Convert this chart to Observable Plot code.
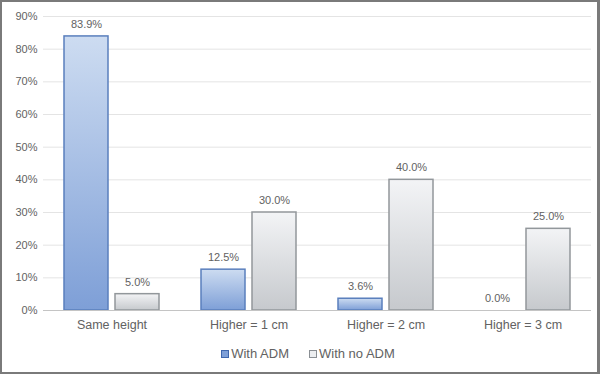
<!DOCTYPE html>
<html>
<head>
<meta charset="utf-8">
<script src="https://cdn.jsdelivr.net/npm/d3@7"></script>
<script src="https://cdn.jsdelivr.net/npm/@observablehq/plot@0.6"></script>
<style>
  html, body { margin: 0; padding: 0; background: #fff; }
  #frame {
    width: 600px; height: 374px; box-sizing: border-box;
    border: 2px solid #7a7a7a; border-right-width: 3px; background: #fff;
    font-family: "Liberation Sans", Arial, sans-serif; position: relative;
  }
  #legend {
    position: absolute; left: 0; right: 0; top: 344px;
    display: flex; justify-content: center; gap: 20px;
    font-size: 13px; color: #626262; padding-left: 17px;
  }
  #legend span { display: inline-flex; align-items: center; }
  #legend i { display: inline-block; width: 6px; height: 6px; margin-right: 2px; }
</style>
</head>
<body>
<div id="frame">
  <div id="chart"></div>
  <div id="legend"></div>
</div>
<script>
const categories = ["Same height", "Higher = 1 cm", "Higher = 2 cm", "Higher = 3 cm"];
const seriesNames = ["With ADM", "With no ADM"];
const withADM = [83.9, 12.5, 3.6, 0.0];
const withNoADM = [5.0, 30.0, 40.0, 25.0];
const yTicks = [0, 10, 20, 30, 40, 50, 60, 70, 80, 90];

const rows = [];
categories.forEach((c, i) => {
  rows.push({cat: c, series: seriesNames[0], value: withADM[i]});
  rows.push({cat: c, series: seriesNames[1], value: withNoADM[i]});
});
const rowsA = rows.filter(d => d.series === seriesNames[0]);
const rowsB = rows.filter(d => d.series === seriesNames[1]);

const chart = Plot.plot({
  width: 595,
  height: 336,
  marginTop: 14,
  marginBottom: 28,
  marginLeft: 40,
  marginRight: 5,
  style: {fontFamily: "Liberation Sans, Arial, sans-serif", fontSize: "11px", color: "#626262", background: "transparent"},
  fx: {domain: categories, padding: 0, label: null},
  x: {domain: seriesNames, paddingInner: 0.135, paddingOuter: 0.39, axis: null},
  y: {domain: [0, 90], ticks: yTicks, label: null},
  marks: [
    Plot.ruleY(yTicks.filter(t => t > 0), {stroke: "#e4e4e4", strokeWidth: 1}),
    Plot.axisY({ticks: yTicks, tickSize: 0, tickPadding: 6, tickFormat: d => d + "%", label: null, color: "#626262", fontSize: 11}),
    Plot.axisFx({anchor: "bottom", tickSize: 0, tickPadding: 10, label: null, color: "#626262", fill: "#626262", fontSize: 12.5}),
    Plot.barY(rowsA, {fx: "cat", x: "series", y: "value", fill: "url(#gradADM)", stroke: "#5a7fbd", strokeWidth: 1.5}),
    Plot.barY(rowsB, {fx: "cat", x: "series", y: "value", fill: "url(#gradNo)", stroke: "#92979b", strokeWidth: 1.5}),
    Plot.ruleY([0], {stroke: "#c4c4c4", strokeWidth: 1}),
    Plot.text(rows, {fx: "cat", x: "series", y: "value", text: d => d.value.toFixed(1) + "%", dy: -12, fill: "#626262", fontSize: 11})
  ]
});

const ns = "http://www.w3.org/2000/svg";
const defs = document.createElementNS(ns, "defs");
function grad(id, top, bottom) {
  const g = document.createElementNS(ns, "linearGradient");
  g.setAttribute("id", id);
  g.setAttribute("x1", "0"); g.setAttribute("y1", "0");
  g.setAttribute("x2", "0"); g.setAttribute("y2", "1");
  [[0, top], [1, bottom]].forEach(([o, c]) => {
    const s = document.createElementNS(ns, "stop");
    s.setAttribute("offset", o);
    s.setAttribute("stop-color", c);
    g.appendChild(s);
  });
  defs.appendChild(g);
}
grad("gradADM", "#cddcf1", "#7e9fd7");
grad("gradNo", "#f3f4f6", "#c6c9cd");
chart.insertBefore(defs, chart.firstChild);
document.getElementById("chart").appendChild(chart);

const legend = document.getElementById("legend");
[["With ADM", "#7e9fd7", "#3f67ad"], ["With no ADM", "#eceef0", "#8a8f94"]].forEach(([t, f, s]) => {
  const sp = document.createElement("span");
  sp.innerHTML = `<i style="background:${f};border:1px solid ${s}"></i>${t}`;
  legend.appendChild(sp);
});
</script>
</body>
</html>
